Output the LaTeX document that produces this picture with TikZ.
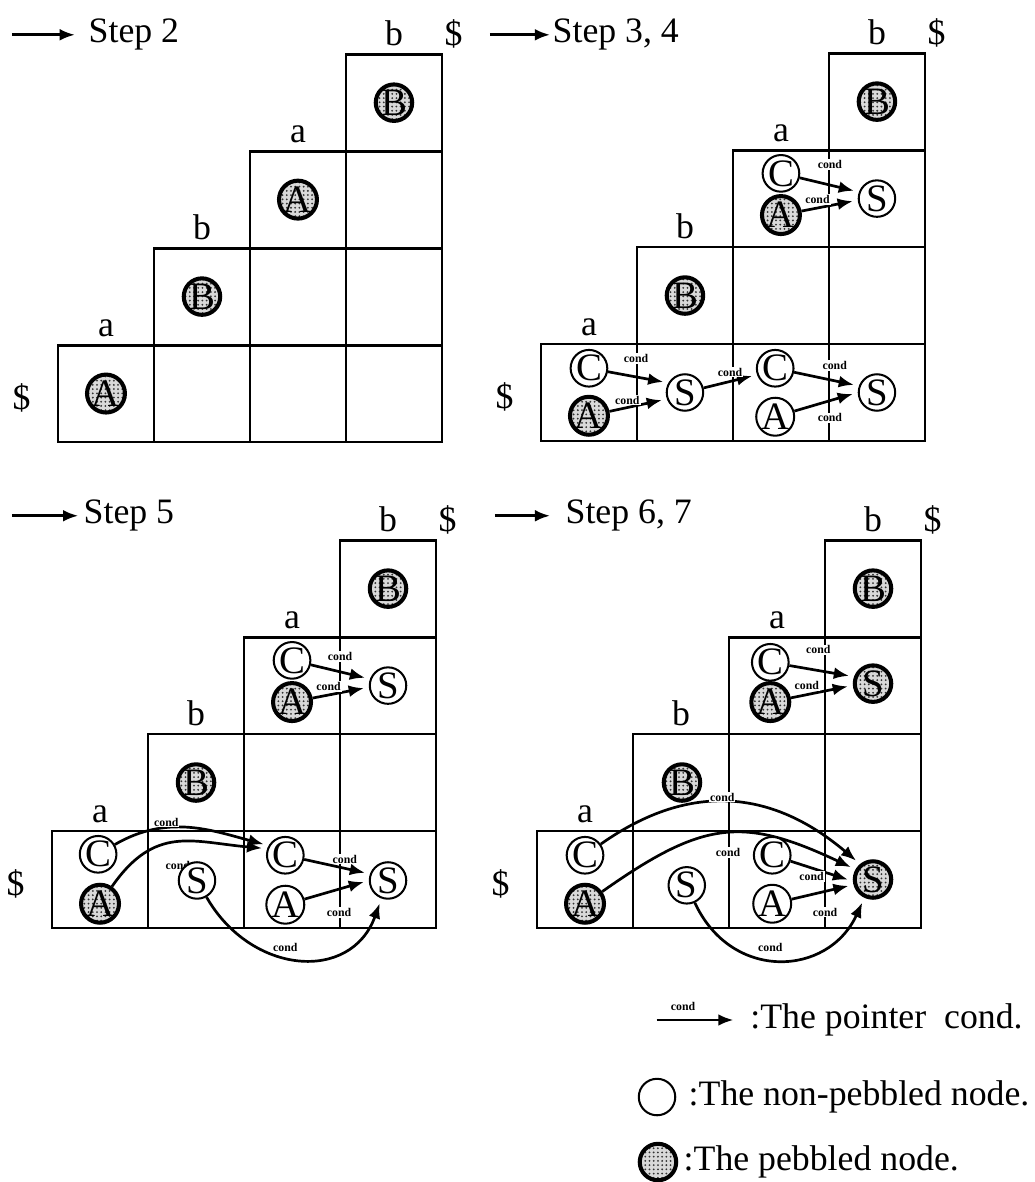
\documentclass[tikz,border=0pt]{standalone}
\usepackage{fontspec}
\setmainfont{Liberation Serif}
\usetikzlibrary{arrows.meta,patterns.meta}

% stippled fill for the pebbled nodes
\tikzdeclarepattern{
  name=pebbles,
  type=uncolored,
  bottom left={(-.625pt,-.625pt)},
  top right={(.625pt,.625pt)},
  tile size={(1.25pt,1.25pt)},
  code={\fill (0pt,0pt) circle (.3pt);}
}

\pgfdeclarelayer{back}
\pgfdeclarelayer{mid}
\pgfsetlayers{back,mid,main}

\begin{document}
\begin{tikzpicture}
  [x=1cm,y=1cm,
   panel/.style={shift={#1},yscale=1.01},
   cell/.style={draw,line width=0.85pt},
   lbl/.style={font=\fontsize{10.6}{12}\selectfont},
   plain/.style={circle,draw,fill=white,line width=0.6pt,minimum size=0.38cm,inner sep=0pt,font=\fontsize{11.5}{12}\selectfont},
   pebbled/.style={plain,line width=1.2pt,preaction={fill=gray!30},pattern=pebbles,pattern color=black!80},
   ptr/.style={-{Latex[length=4.5pt,width=3.5pt]},line width=0.8pt,shorten >=1.5pt},
   cond/.style={fill=white,inner sep=0.3pt,font=\fontsize{3.5}{4}\selectfont\bfseries}]
  \useasboundingbox (0,0) rectangle (10.771,12.3125);

  % the four staircase tables
  \begin{pgfonlayer}{back}
  \foreach \p/\ox/\oy in {1/0.604/7.708,2/5.635/7.719,3/0.542/2.646,4/5.594/2.646}{
    \begin{scope}[panel={(\ox,\oy)}]
      \foreach \r in {0,...,3}
        \foreach \c in {\r,...,3}
          \draw[cell] (\c,\r) rectangle ++(1,1);
      \foreach \r/\t in {0/a,1/b,2/a,3/b}
        \node[lbl,anchor=base] (g\p\t\r) at (\r+.5,\r+1.09) {\t};
      \node[lbl,anchor=base] (g\p top) at (4.12,4.09) {\$};
      \node[lbl] (g\p left) at (-0.38,0.45) {\$};
    \end{scope}
  }
  \end{pgfonlayer}

  % titles
  \coordinate (t1tail) at (0.125,11.95);
  \node[lbl,anchor=west,inner sep=0pt] (t1) at (0.917,11.95) {Step 2};
  \draw[ptr,shorten >=0.137cm] (t1tail) -- (t1);
  \coordinate (t2tail) at (5.104,11.95);
  \node[lbl,anchor=west,inner sep=0pt] (t2) at (5.75,11.95) {Step 3, 4};
  \draw[ptr,shorten >=0.02cm] (t2tail) -- (t2);
  \coordinate (t3tail) at (0.125,6.94);
  \node[lbl,anchor=west,inner sep=0pt] (t3) at (0.865,6.94) {Step 5};
  \draw[ptr,shorten >=0.05cm] (t3tail) -- (t3);
  \coordinate (t4tail) at (5.156,6.94);
  \node[lbl,anchor=west,inner sep=0pt] (t4) at (5.885,6.94) {Step 6, 7};
  \draw[ptr,shorten >=0.155cm] (t4tail) -- (t4);

  % step 2
  \begin{scope}[panel={(0.604,7.708)}]
    \node[pebbled] (p1A00) at (0.5,0.5) {A};
    \node[pebbled] (p1B11) at (1.5,1.5) {B};
    \node[pebbled] (p1A22) at (2.5,2.5) {A};
    \node[pebbled] (p1B33) at (3.5,3.5) {B};
  \end{scope}

  % step 3, 4
  \begin{scope}[panel={(5.635,7.719)}]
    \node[pebbled] (p2B33) at (3.5,3.5) {B};
    \node[plain] (p2C22) at (2.5,2.76) {C};
    \node[pebbled] (p2A22) at (2.5,2.33) {A};
    \node[plain] (p2S32) at (3.5,2.5) {S};
    \node[pebbled] (p2B11) at (1.5,1.5) {B};
    \node[plain] (p2C00) at (0.5,0.75) {C};
    \node[pebbled] (p2A00) at (0.5,0.26) {A};
    \node[plain] (p2S10) at (1.5,0.5) {S};
    \node[plain] (p2C20) at (2.44,0.75) {C};
    \node[plain] (p2A20) at (2.44,0.25) {A};
    \node[plain] (p2S30) at (3.5,0.5) {S};
    \begin{pgfonlayer}{mid}
      \draw[ptr] (p2C22) -- (p2S32.160);
      \draw[ptr] (p2A22) -- (p2S32.185);
      \draw[ptr] (p2C00) -- (p2S10.150);
      \draw[ptr] (p2A00) -- (p2S10.200);
      \draw[ptr] (p2S10) -- (p2C20.200);
      \draw[ptr] (p2C20) -- (p2S30.160);
      \draw[ptr] (p2A20) -- (p2S30.180);
      \node[cond] (p2k1) at (3.01,2.85) {cond};
      \node[cond] (p2k2) at (2.88,2.49) {cond};
      \node[cond] (p2k3) at (0.99,0.85) {cond};
      \node[cond] (p2k4) at (0.9,0.42) {cond};
      \node[cond] (p2k5) at (1.97,0.71) {cond};
      \node[cond] (p2k6) at (3.06,0.78) {cond};
      \node[cond] (p2k7) at (3.01,0.24) {cond};
    \end{pgfonlayer}
  \end{scope}

  % step 5
  \begin{scope}[panel={(0.542,2.646)}]
    \node[pebbled] (p3B33) at (3.5,3.5) {B};
    \node[plain] (p3C22) at (2.5,2.76) {C};
    \node[pebbled] (p3A22) at (2.5,2.33) {A};
    \node[plain] (p3S32) at (3.5,2.5) {S};
    \node[pebbled] (p3B11) at (1.5,1.5) {B};
    \node[plain] (p3C00) at (0.48,0.76) {C};
    \node[pebbled] (p3A00) at (0.5,0.25) {A};
    \node[plain] (p3S10) at (1.51,0.49) {S};
    \node[plain] (p3C20) at (2.43,0.75) {C};
    \node[plain] (p3A20) at (2.43,0.24) {A};
    \node[plain] (p3S30) at (3.5,0.49) {S};
    \begin{pgfonlayer}{mid}
      \draw[ptr] (p3C22) -- (p3S32.160);
      \draw[ptr] (p3A22) -- (p3S32.185);
      \draw[ptr] (p3C00) to[out=30,in=165] (p3C20.150);
      \draw[ptr] (p3A00) to[out=55,in=175,looseness=1.2] (p3C20.160);
      \draw[ptr] (p3S10) to[out=-60,in=-110,looseness=1.3] (p3S30.250);
      \draw[ptr] (p3C20) -- (p3S30.160);
      \draw[ptr] (p3A20) -- (p3S30.180);
      \node[cond] (p3k1) at (3.0,2.8) {cond};
      \node[cond] (p3k2) at (2.88,2.49) {cond};
      \node[cond] (p3k3) at (1.19,1.09) {cond};
      \node[cond] (p3k4) at (1.31,0.65) {cond};
      \node[cond] (p3k5) at (2.43,-0.2) {cond};
      \node[cond] (p3k6) at (3.05,0.71) {cond};
      \node[cond] (p3k7) at (2.99,0.16) {cond};
    \end{pgfonlayer}
  \end{scope}

  % step 6, 7
  \begin{scope}[panel={(5.594,2.646)}]
    \node[pebbled] (p4B33) at (3.5,3.5) {B};
    \node[plain] (p4C22) at (2.43,2.74) {C};
    \node[pebbled] (p4A22) at (2.43,2.33) {A};
    \node[pebbled] (p4S32) at (3.5,2.52) {S};
    \node[pebbled] (p4B11) at (1.51,1.5) {B};
    \node[plain] (p4C00) at (0.5,0.75) {C};
    \node[pebbled] (p4A00) at (0.5,0.25) {A};
    \node[plain] (p4S10) at (1.56,0.44) {S};
    \node[plain] (p4C20) at (2.45,0.75) {C};
    \node[plain] (p4A20) at (2.45,0.25) {A};
    \node[pebbled] (p4S30) at (3.5,0.5) {S};
    \begin{pgfonlayer}{mid}
      \draw[ptr] (p4C22) -- (p4S32.160);
      \draw[ptr] (p4A22) -- (p4S32.185);
      \draw[ptr] (p4C00) to[out=35,in=140,looseness=1.1] (p4S30.130);
      \draw[ptr] (p4A00) to[out=35,in=155,looseness=1.25] (p4S30.150);
      \draw[ptr] (p4S10) to[out=-65,in=-115,looseness=1.3] (p4S30.245);
      \draw[ptr] (p4C20) -- (p4S30.185);
      \draw[ptr] (p4A20) -- (p4S30.195);
      \node[cond] (p4k1) at (2.93,2.87) {cond};
      \node[cond] (p4k2) at (2.81,2.5) {cond};
      \node[cond] (p4k3) at (1.93,1.35) {cond};
      \node[cond] (p4k4) at (1.99,0.78) {cond};
      \node[cond] (p4k5) at (2.86,0.53) {cond};
      \node[cond] (p4k6) at (3.0,0.165) {cond};
      \node[cond] (p4k7) at (2.43,-0.2) {cond};
    \end{pgfonlayer}
  \end{scope}

  % legend
  \coordinate (lgtail) at (6.84,1.6875);
  \node[lbl,anchor=west,inner sep=0pt] (lgptr) at (7.81,1.6875) {:The pointer~ cond.};
  \draw[ptr,shorten >=0.17cm] (lgtail) -- (lgptr);
  \node[cond] (lgcond) at (7.115,1.83) {cond};
  \node[plain] (lgplain) at (6.844,0.885) {};
  \node[lbl,anchor=west,inner sep=0pt] (lgplaintxt) at (7.167,0.885) {:The non-pebbled node.};
  \node[pebbled] (lgpeb) at (6.854,0.208) {};
  \node[lbl,anchor=west,inner sep=0pt] (lgpebtxt) at (7.115,0.208) {:The pebbled node.};
\end{tikzpicture}
\end{document}
